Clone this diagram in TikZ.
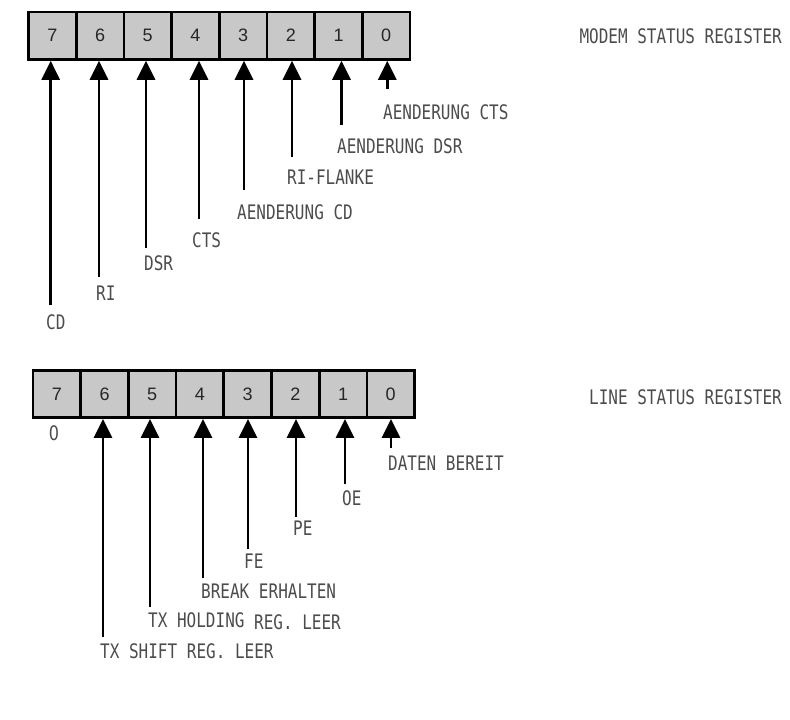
\documentclass[tikz,border=0pt]{standalone}
\usepackage{fontspec}
\setmainfont{Liberation Sans}
\newfontfamily\plotfont[FakeStretch=0.8]{DejaVu Sans Mono}
\newfontfamily\plotdigit[FakeStretch=0.8]{DejaVu Sans}
\usetikzlibrary{arrows.meta}
\definecolor{cellgray}{RGB}{200,200,200}
\begin{document}
\begin{tikzpicture}[x=1pt,y=-1pt,
  cell/.style={draw=black, line width=2.7pt, fill=cellgray,
    minimum width=47.7pt, minimum height=47.4pt, inner sep=0pt,
    font=\fontsize{18}{20}\selectfont, text=black!85},
  lbl/.style={anchor=west, inner sep=0pt,
    font=\plotfont\fontsize{20}{22}\selectfont, text=black!70},
  ttl/.style={lbl, anchor=east},
  arr/.style={line width=2.8pt, -{Triangle[length=19pt,width=18pt]}}]
\useasboundingbox (0,0) rectangle (790,720);

% ---------- Modem status register ----------
\foreach \i in {0,...,7}
  \node[cell] (m\i) at ({52.35+47.7*(7-\i)},35.7) {\i};
\node[ttl] (mtitle) at (782,36) {MODEM STATUS REGISTER};

\coordinate (me7) at (50.7,305);
\coordinate (me6) at (99,277);
\coordinate (me5) at (146,248);
\coordinate (me4) at (199,219);
\coordinate (me3) at (244,190);
\coordinate (me2) at (292,157);
\coordinate (me1) at (341.5,125);
\coordinate (me0) at (387.3,89);
\foreach \i in {0,...,7}
  \draw[arr] (me\i) -- (me\i |- m\i.south);

\node[lbl] (ml7) at (46,322) {CD};
\node[lbl] (ml6) at (96,293) {RI};
\node[lbl] (ml5) at (144,263) {DSR};
\node[lbl] (ml4) at (192,240) {CTS};
\node[lbl] (ml3) at (237,212) {AENDERUNG CD};
\node[lbl] (ml2) at (287,177) {RI-FLANKE};
\node[lbl] (ml1) at (337,146) {AENDERUNG DSR};
\node[lbl] (ml0) at (383,112) {AENDERUNG CTS};

% ---------- Line status register ----------
\foreach \i in {0,...,7}
  \node[cell] (l\i) at ({56.85+47.7*(7-\i)},393.9) {\i};
\node[ttl] (ltitle) at (782,397) {LINE STATUS REGISTER};

\node[lbl, anchor=center, font=\plotdigit\fontsize{20}{22}\selectfont] (lz7) at (54,433) {0};

\coordinate (le6) at (103,636.7);
\coordinate (le5) at (150,607.3);
\coordinate (le4) at (203,578.3);
\coordinate (le3) at (248,549.3);
\coordinate (le2) at (296,516.7);
\coordinate (le1) at (345,484.3);
\coordinate (le0) at (391,448.3);
\foreach \i in {0,...,6}
  \draw[arr] (le\i) -- (le\i |- l\i.south);

\node[lbl] (ll6) at (100,651) {TX SHIFT REG. LEER};
\node[lbl] (ll5) at (148,621) {TX HOLDING\raisebox{-1.5pt}{ REG. LEER}};
\node[lbl] (ll4) at (201,591.5) {BREAK ERHALTEN};
\node[lbl] (ll3) at (244,561) {FE};
\node[lbl] (ll2) at (293,528) {PE};
\node[lbl] (ll1) at (342,498) {OE};
\node[lbl] (ll0) at (388,463) {DATEN BEREIT};
\end{tikzpicture}
\end{document}
